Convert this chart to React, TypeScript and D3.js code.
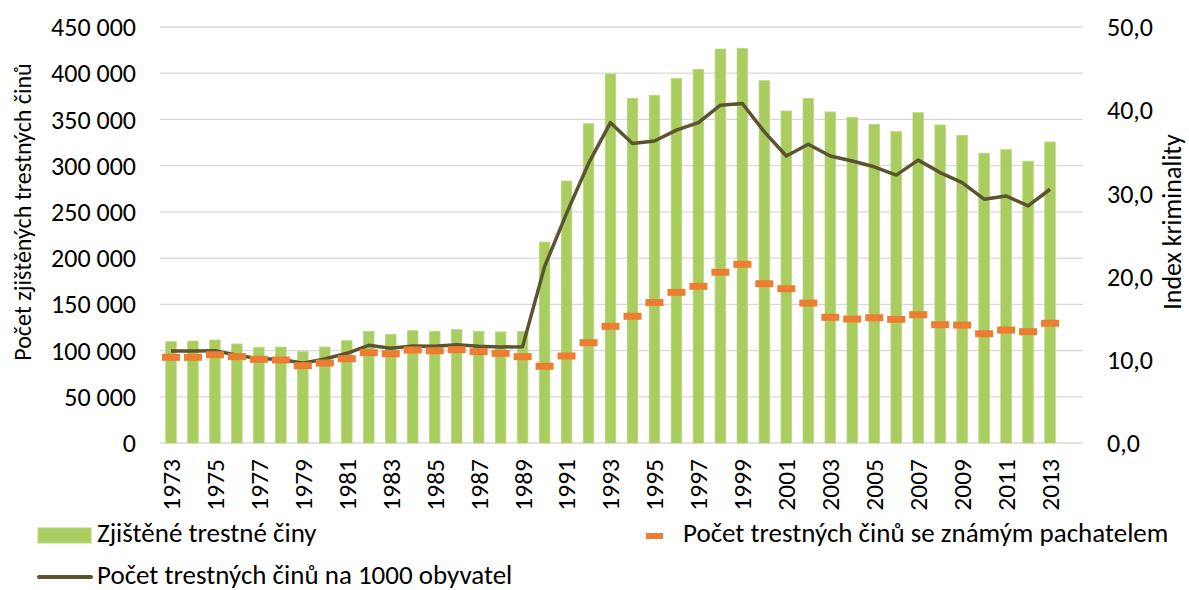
import { useEffect, useRef } from 'react';
import * as d3 from 'd3';

// 1973..2014 (last category left empty, as in the source chart)
const years = d3.range(1973, 2015).map(String);

const zjistene = [
  109600, 110300, 111400, 107100, 103500, 103800, 98800, 103800, 110700, 120800,
  117600, 121500, 120800, 122600, 120800, 120100, 120800, 217400, 283400, 345400,
  399200, 372800, 376100, 394500, 404200, 426200, 426900, 391900, 359100, 372800,
  358100, 352300, 344700, 336800, 357300, 344000, 332800, 313400, 317300, 304700,
  325600,
];

const znamyPachatel = [
  92700, 92700, 95500, 93400, 90500, 89800, 83600, 86500, 91200, 97700,
  96600, 100600, 99800, 100900, 98800, 97000, 93400, 83000, 94100, 108500,
  126200, 137100, 151900, 163000, 169500, 184700, 193300, 172300, 166900, 151400,
  136000, 134100, 135500, 133800, 138800, 128000, 127600, 118200, 122200, 120400,
  129500,
];

const naTisic = [
  11.06, 11.06, 11.1, 10.54, 10.13, 10.06, 9.58, 10.1, 10.78, 11.74,
  11.38, 11.66, 11.62, 11.81, 11.62, 11.54, 11.58, 21.2, 27.6, 33.6,
  38.5, 36.0, 36.3, 37.6, 38.5, 40.6, 40.8, 37.4, 34.5, 35.9,
  34.5, 33.9, 33.2, 32.2, 34.0, 32.5, 31.3, 29.3, 29.7, 28.5,
  30.5,
];

const leftTicks = d3.range(0, 450001, 50000);
const rightTicks = [0, 10, 20, 30, 40, 50];

const GREEN = '#A9CD5E';
const ORANGE = '#ED7D31';
const OLIVE = '#5C5331';
const FONT = 'Calibri, Carlito, "Open Sans", sans-serif';

export default function App() {
  const svgRef = useRef<SVGSVGElement>(null);

  useEffect(() => {
    if (!svgRef.current) return;
    const svg = d3.select(svgRef.current);
    svg.selectAll('*').remove();

    const x = d3.scaleBand().domain(years).range([160, 1083]).paddingInner(0.52).paddingOuter(0.26);
    const y = d3.scaleLinear().domain([0, 450000]).range([443, 27]);
    const y2 = d3.scaleLinear().domain([0, 50]).range([443, 27]);
    const cx = (i: number) => (x(years[i]) ?? 0) + x.bandwidth() / 2;

    // gridlines
    svg.append('g')
      .selectAll('line')
      .data(leftTicks)
      .join('line')
      .attr('x1', 160).attr('x2', 1083)
      .attr('y1', d => y(d)).attr('y2', d => y(d))
      .attr('stroke', '#D9D9D9').attr('stroke-width', 1.3);

    // bars
    svg.append('g')
      .selectAll('rect')
      .data(zjistene)
      .join('rect')
      .attr('x', (_, i) => x(years[i]) ?? 0)
      .attr('y', d => y(d))
      .attr('width', x.bandwidth())
      .attr('height', d => y(0) - y(d))
      .attr('fill', GREEN)
      .attr('stroke', '#B8D883').attr('stroke-width', 0.8);

    // line
    const line = d3.line<number>().x((_, i) => cx(i)).y(d => y2(d));
    svg.append('path')
      .datum(naTisic)
      .attr('d', line)
      .attr('fill', 'none')
      .attr('stroke', OLIVE)
      .attr('stroke-width', 3.5)
      .attr('stroke-linejoin', 'round');

    // dash markers
    svg.append('g')
      .selectAll('rect')
      .data(znamyPachatel)
      .join('rect')
      .attr('x', (_, i) => cx(i) - 9)
      .attr('y', d => y(d) - 3.5)
      .attr('width', 18)
      .attr('height', 7)
      .attr('fill', ORANGE);

    const text = (g: d3.Selection<SVGGElement, unknown, null, undefined>, size: number) =>
      g.attr('font-family', FONT).attr('font-size', size).attr('fill', '#000');

    // left axis labels
    svg.append('g').call(g => text(g, 26))
      .selectAll('text')
      .data(leftTicks)
      .join('text')
      .attr('x', 136)
      .attr('y', d => y(d))
      .attr('dy', '0.35em')
      .attr('text-anchor', 'end')
      .text(d => d3.format(',')(d).replace(/,/g, ' '));

    // right axis labels
    svg.append('g').call(g => text(g, 26))
      .selectAll('text')
      .data(rightTicks)
      .join('text')
      .attr('x', 1107)
      .attr('y', d => y2(d))
      .attr('dy', '0.35em')
      .text(d => d3.format('.1f')(d).replace('.', ','));

    // x labels every second year
    svg.append('g').call(g => text(g, 25.5))
      .selectAll('text')
      .data(years.filter((_, i) => i % 2 === 0 && i < zjistene.length))
      .join('text')
      .attr('transform', d => `translate(${(x(d) ?? 0) + x.bandwidth() / 2},459) rotate(-90)`)
      .attr('dy', '0.35em')
      .attr('text-anchor', 'end')
      .text(d => d);

    // axis titles
    svg.append('g').call(g => text(g, 24))
      .append('text')
      .attr('transform', 'translate(23,212) rotate(-90)')
      .attr('dy', '0.35em')
      .attr('text-anchor', 'middle')
      .text('Počet zjištěných trestných činů');
    svg.append('g').call(g => text(g, 26))
      .append('text')
      .attr('transform', 'translate(1172,222) rotate(-90)')
      .attr('dy', '0.35em')
      .attr('text-anchor', 'middle')
      .text('Index kriminality');

    // legend
    const lg = svg.append('g').call(g => text(g, 27));
    lg.append('rect').attr('x', 38).attr('y', 528).attr('width', 53).attr('height', 15)
      .attr('fill', GREEN).attr('stroke', '#B8D883');
    lg.append('text').attr('x', 97).attr('y', 533).attr('dy', '0.35em').text('Zjištěné trestné činy');
    lg.append('rect').attr('x', 646).attr('y', 533).attr('width', 17).attr('height', 6).attr('fill', ORANGE);
    lg.append('text').attr('x', 683).attr('y', 533).attr('dy', '0.35em').text('Počet trestných činů se známým pachatelem');
    lg.append('line').attr('x1', 39).attr('x2', 91).attr('y1', 577).attr('y2', 577)
      .attr('stroke', OLIVE).attr('stroke-width', 4).attr('stroke-linecap', 'round');
    lg.append('text').attr('x', 97).attr('y', 574.5).attr('dy', '0.35em').text('Počet trestných činů na 1000 obyvatel');
  }, []);

  return (
    <svg
      ref={svgRef}
      width={1189}
      height={590}
      style={{ display: 'block', position: 'absolute', left: 0, top: 0 }}
    />
  );
}
